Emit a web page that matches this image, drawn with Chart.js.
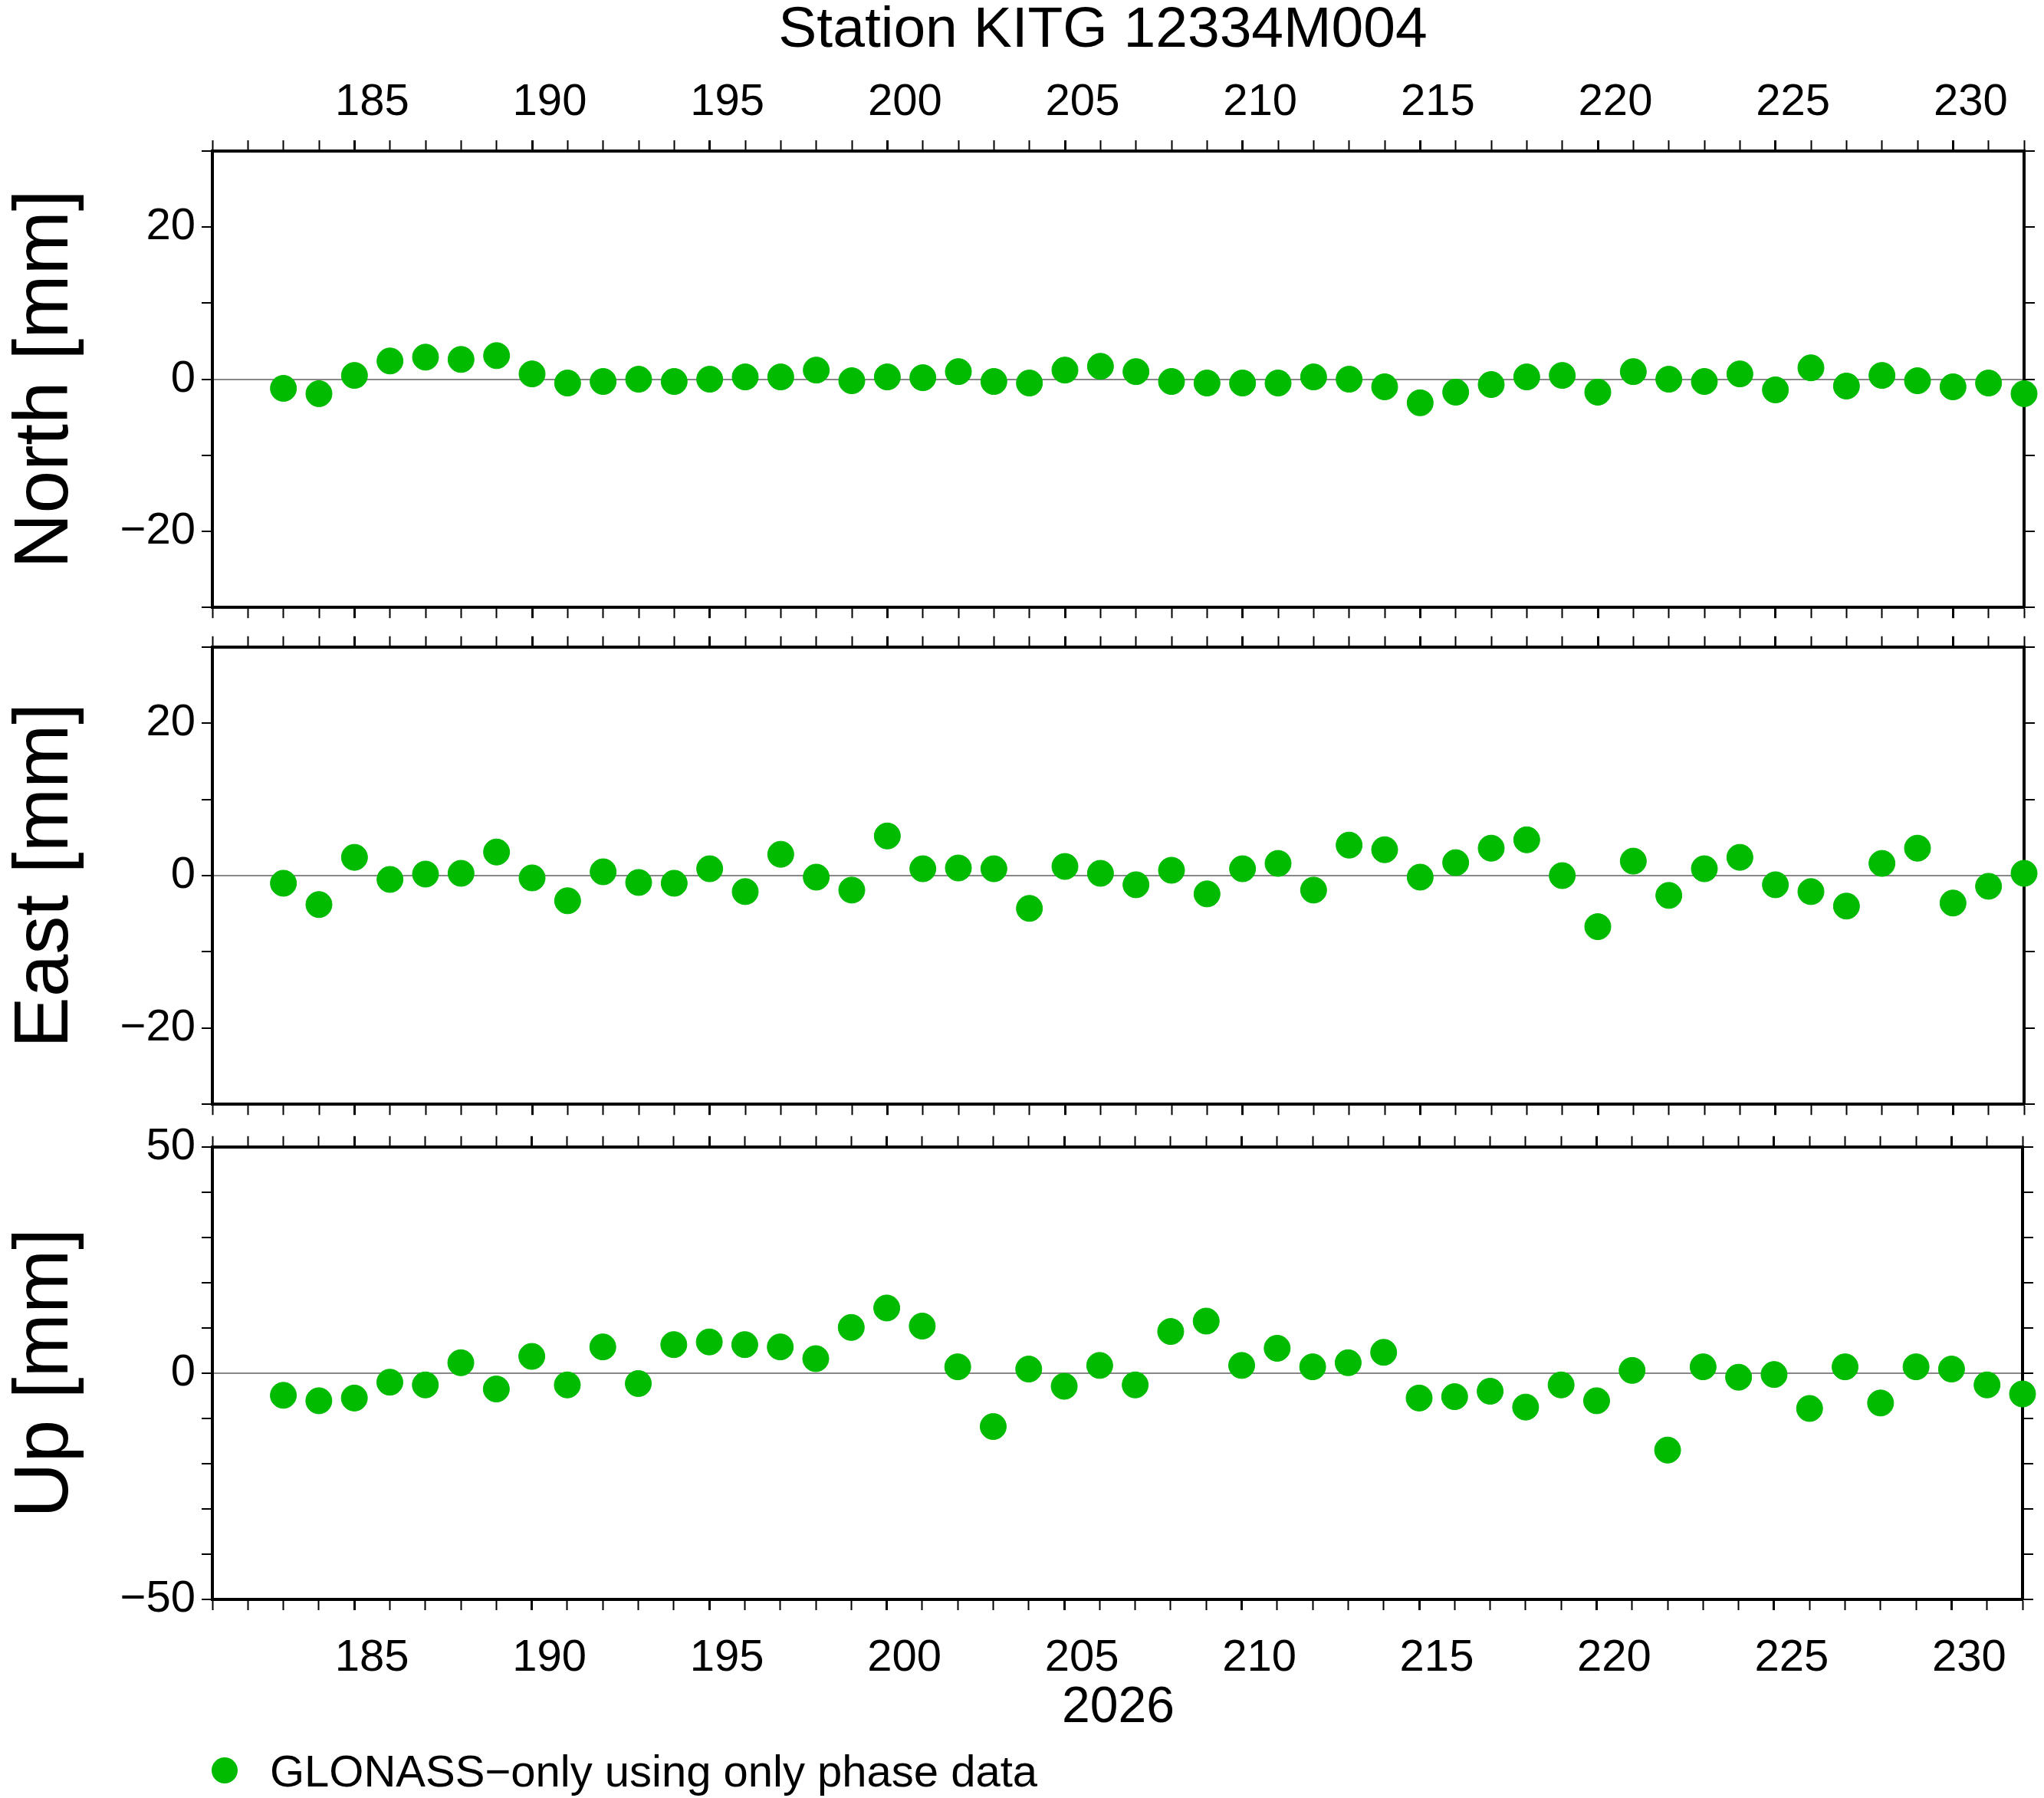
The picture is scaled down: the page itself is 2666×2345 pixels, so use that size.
<!DOCTYPE html>
<html>
<head>
<meta charset="utf-8">
<script src="https://cdn.jsdelivr.net/npm/chart.js@4"></script>
<style>
  body { margin: 0; background: #fff; width: 2666px; height: 2345px; position: relative; overflow: hidden;
         font-family: "Liberation Sans", Arial, sans-serif; }
  .panel { position: absolute; left: 0; width: 2666px; }
  .txt { position: absolute; color: #000; white-space: nowrap; }
</style>
</head>
<body>
<div class="txt" style="left:0;width:2877px;top:-8px;text-align:center;font-size:75px;">Station KITG 12334M004</div>
<div class="panel" style="top:0;height:835px"><canvas id="north"></canvas></div>
<div class="panel" style="top:801px;height:682px"><canvas id="east"></canvas></div>
<div class="panel" style="top:1453px;height:743px"><canvas id="up"></canvas></div>
<div class="txt" style="left:0;width:2917px;top:2185px;text-align:center;font-size:66px;">2026</div>
<div class="txt" style="left:276px;top:2276px;font-size:58px;">
  <span style="display:inline-block;width:34px;height:34px;border-radius:50%;background:#00bb00;vertical-align:middle;margin-right:42px;position:relative;top:-6px"></span>GLONASS&minus;only using only phase data</div>
<script>
// day of year 183..232
const days = [];
for (let d = 183; d <= 232; d++) days.push(d);

const north = [-1.2,-1.9,0.5,2.4,2.9,2.6,3.1,0.7,-0.5,-0.3,0,-0.3,0,0.3,0.3,1.2,-0.2,0.3,0.2,1.0,
  -0.3,-0.5,1.2,1.7,1.0,-0.3,-0.5,-0.5,-0.5,0.3,0,-1.0,-3.1,-1.7,-0.7,0.3,0.5,-1.7,1.0,0,
  -0.3,0.7,-1.4,1.5,-0.9,0.5,-0.2,-1.0,-0.5,-1.9];
const east = [-1.0,-3.8,2.4,-0.5,0.2,0.3,3.1,-0.3,-3.3,0.5,-0.9,-1.0,0.9,-2.1,2.8,-0.2,-1.9,5.2,0.9,1.0,
  0.9,-4.3,1.2,0.3,-1.2,0.7,-2.4,0.9,1.6,-1.9,4.0,3.4,-0.2,1.7,3.6,4.7,0,-6.7,1.9,-2.6,
  0.9,2.4,-1.2,-2.1,-4.0,1.6,3.6,-3.6,-1.4,0.3];
const up = [-4.9,-6.1,-5.5,-2.0,-2.6,2.3,-3.5,3.7,-2.6,5.8,-2.3,6.3,6.9,6.3,5.8,3.2,10.1,14.4,10.4,1.4,
  -11.8,0.9,-2.9,1.7,-2.6,9.2,11.5,1.7,5.5,1.4,2.3,4.6,-5.5,-5.2,-4.0,-7.5,-2.6,-6.1,0.6,-17.0,
  1.4,-0.9,-0.3,-7.8,1.4,-6.6,1.4,0.9,-2.6,-4.6];

const FONT = { family: '"Liberation Sans", Arial, sans-serif', size: 58 };
const minus = v => String(v).replace('-', '\u2212');
const fixed = (prop, n) => s => { s[prop] = n; };

function makePanel(id, label, values, lim, labelStep, topLabels, botLabels, topH, botH) {
  const xAxis = (pos, show, h) => ({
    type: 'linear', position: pos, min: 181, max: 232,
    afterFit: fixed('height', h),
    border: { display: true, color: '#000', width: 4 },
    grid: { drawOnChartArea: false, tickLength: 14, tickColor: '#000',
            tickWidth: c => (Math.round(c.tick.value) % 5 === 0 ? 3 : 2) },
    ticks: { display: show, stepSize: 1, autoSkip: false, maxRotation: 0, color: '#000', font: FONT,
             padding: pos === 'top' ? 14 : 28, labelOffset: 23,
             callback: v => (Math.round(v) % 5 === 0 ? String(Math.round(v)) : '') }
  });
  const yAxis = (pos, show) => ({
    type: 'linear', position: pos, min: -lim, max: lim,
    afterFit: fixed('width', pos === 'left' ? 277 : 26),
    border: { display: true, color: '#000', width: 4 },
    grid: { drawOnChartArea: pos === 'left', tickLength: 14, tickColor: '#000', tickWidth: 2,
            color: c => (Math.abs(c.tick.value) < 1e-6 ? '#888' : 'rgba(0,0,0,0)'), lineWidth: 2 },
    title: { display: show, text: label, color: '#000', padding: 0,
             font: { family: FONT.family, size: 100 } },
    ticks: { display: show, stepSize: 10, autoSkip: false, color: '#000', font: FONT, padding: 8,
             callback: v => { const r = Math.round(v); return r % labelStep === 0 ? minus(r) : ''; } }
  });
  new Chart(document.getElementById(id), {
    type: 'scatter',
    data: {
      datasets: [{
        data: days.map((d, i) => ({ x: d, y: values[i] })),
        xAxisID: 'x', yAxisID: 'y',
        backgroundColor: '#00bb00', borderColor: '#00bb00',
        pointRadius: 17, pointHoverRadius: 17, clip: false
      }]
    },
    options: {
      responsive: true, maintainAspectRatio: false, animation: false,
      layout: { padding: 0, autoPadding: false },
      plugins: { legend: { display: false }, tooltip: { enabled: false } },
      scales: {
        x: xAxis('top', topLabels, topH),
        x2: xAxis('bottom', botLabels, botH),
        y: yAxis('left', true),
        y2: yAxis('right', false)
      }
    }
  });
}

makePanel('north', 'North [mm]', north, 30, 20, true, false, 197, 26);
makePanel('east', 'East [mm]', east, 30, 20, false, false, 26, 26);
makePanel('up', 'Up [mm]', up, 50, 50, false, true, 26, 110);
</script>
</body>
</html>
